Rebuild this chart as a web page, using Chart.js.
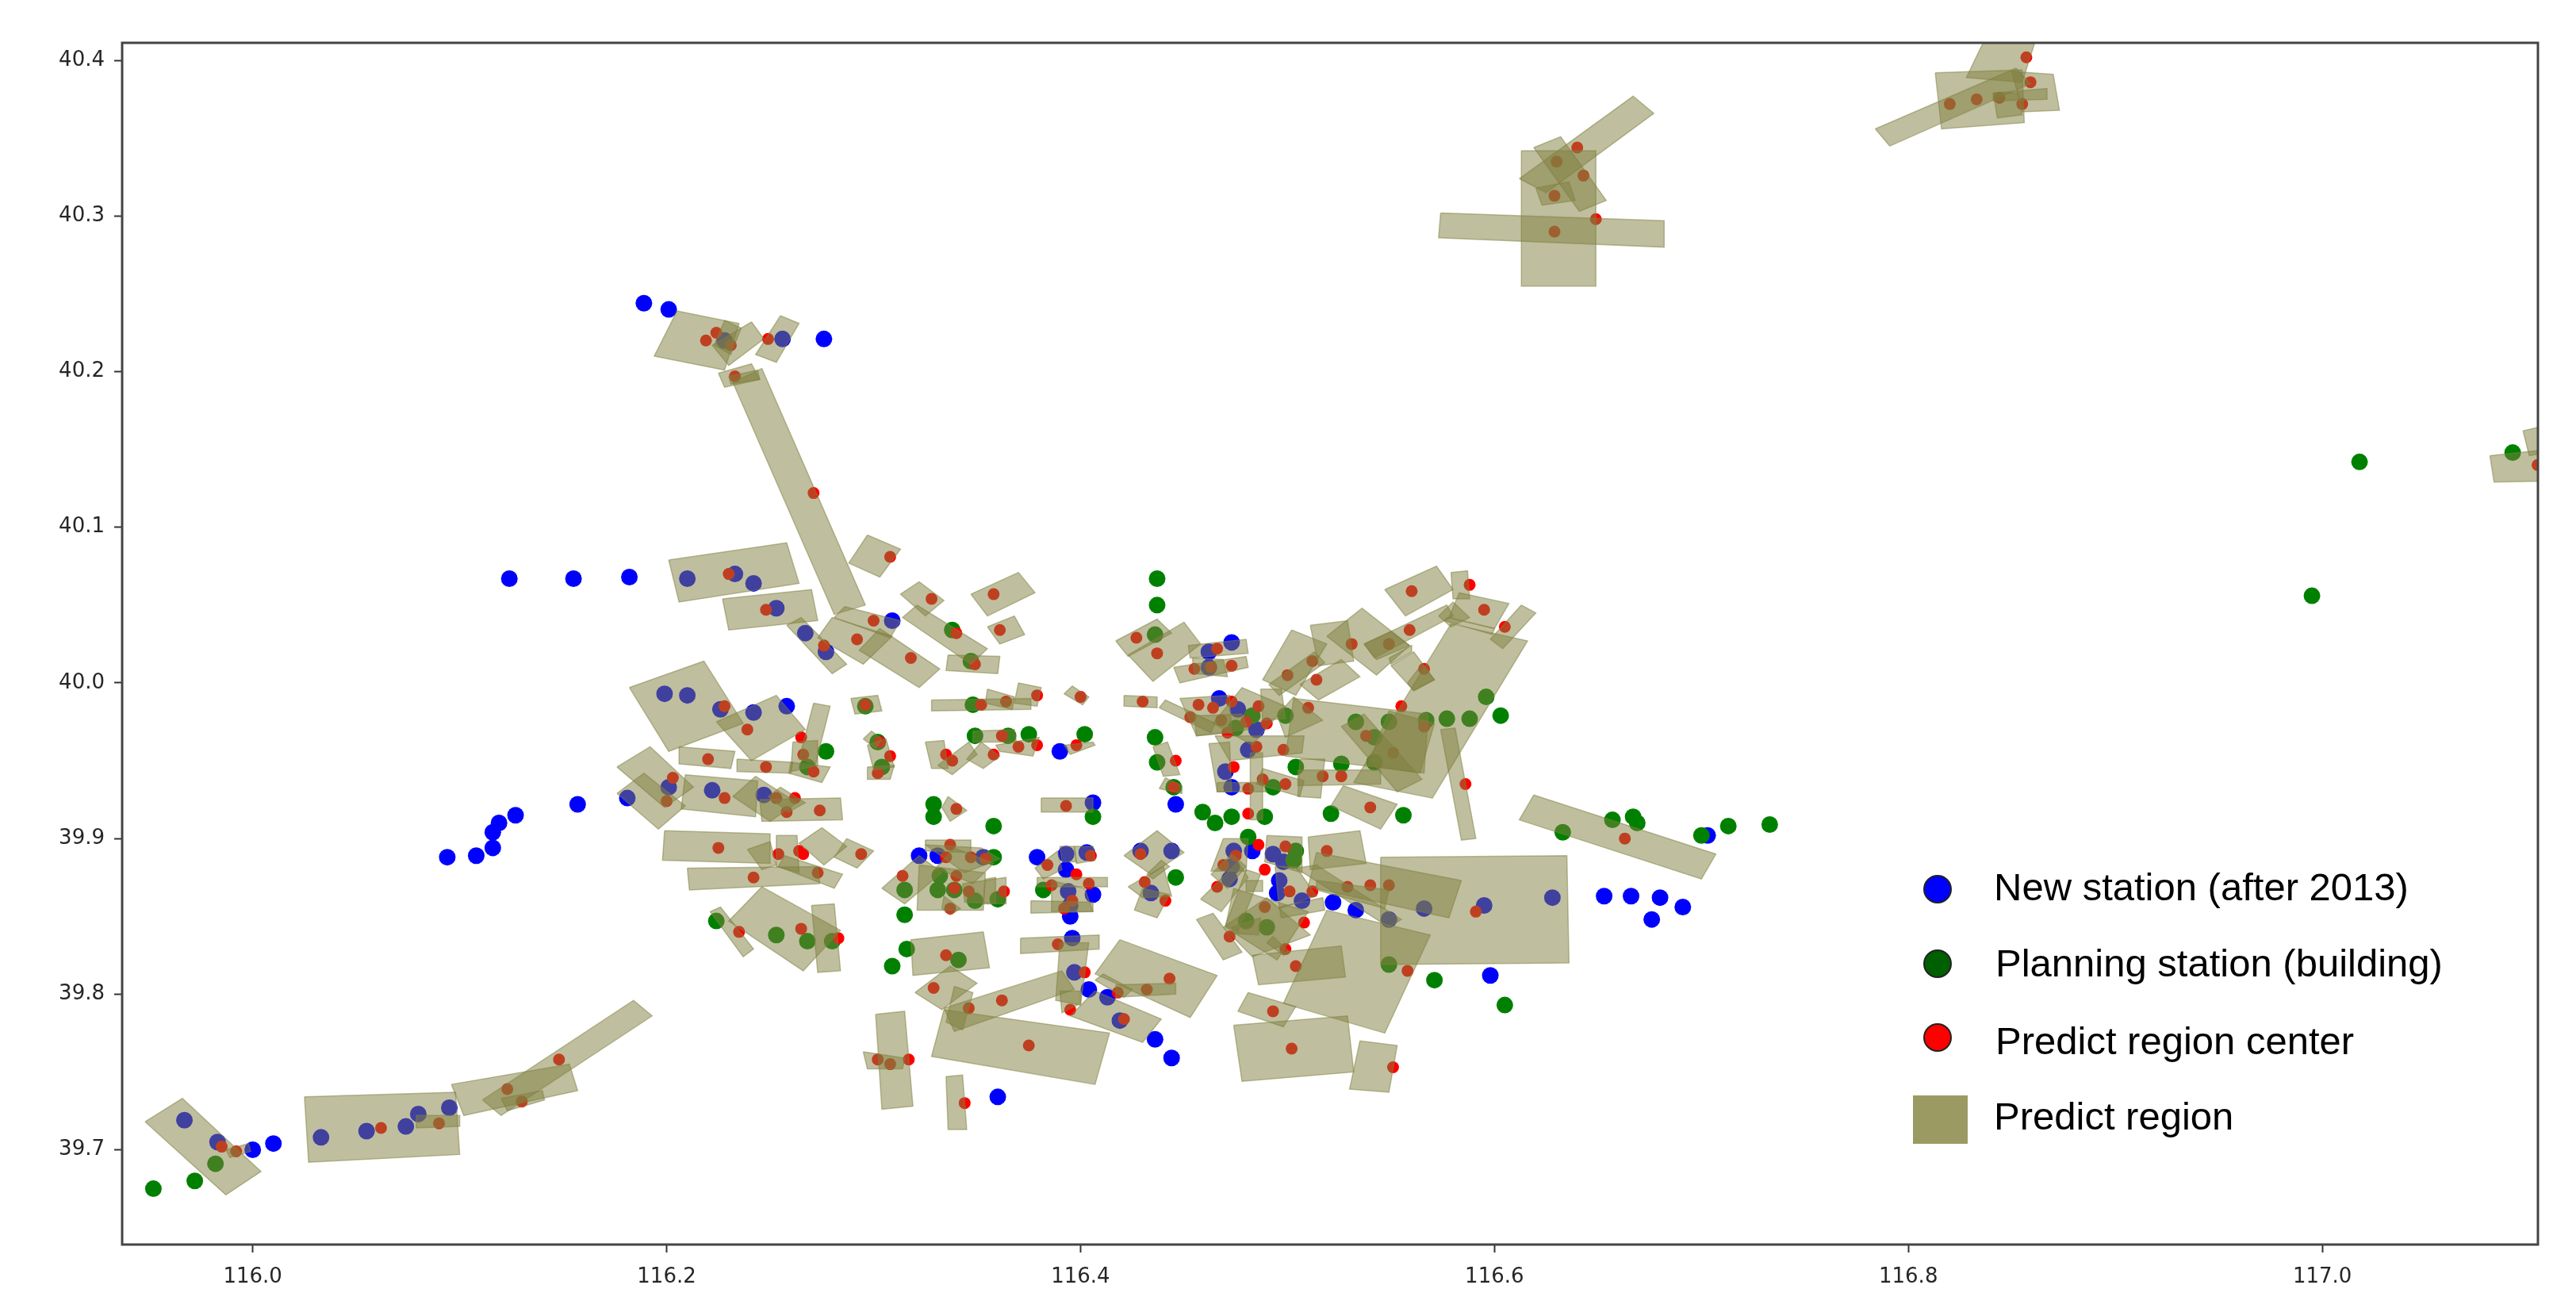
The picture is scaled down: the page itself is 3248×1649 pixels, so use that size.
<!DOCTYPE html>
<html>
<head>
<meta charset="utf-8">
<title>Predict regions</title>
<script src="https://cdn.jsdelivr.net/npm/chart.js@4"></script>
<style>
    body { margin: 0; background: #fff; }
    canvas { display: block; }
</style>
</head>
<body>
<canvas id="regionChart" width="3248" height="1649"></canvas>
<script>
// axis ticks
const xTicks = [116.0, 116.2, 116.4, 116.6, 116.8, 117.0];
const yTicks = [39.7, 39.8, 39.9, 40.0, 40.1, 40.2, 40.3, 40.4];
const xRange = [115.9369, 117.1042];
const yRange = [39.6391, 40.4113];

const legendLabels = ['New station (after 2013)', 'Planning station (building)', 'Predict region center', 'Predict region'];

// [lon, lat]
const newStations = [
    [116.189,40.244],[116.201,40.240],[116.256,40.221],[116.276,40.221],[116.228,40.220],[116.124,40.067],[116.155,40.067],[116.182,40.068],
    [116.210,40.067],[116.233,40.070],[116.242,40.064],[116.253,40.048],[116.267,40.032],[116.277,40.020],[116.309,40.040],[116.199,39.993],
    [116.210,39.992],[116.226,39.983],[116.242,39.981],[116.258,39.985],[116.094,39.888],[116.108,39.889],[116.116,39.894],[116.116,39.904],
    [116.119,39.910],[116.127,39.915],[116.157,39.922],[116.181,39.926],[116.201,39.933],[116.222,39.931],[116.247,39.928],[116.322,39.889],
    [116.331,39.889],[116.353,39.888],[116.379,39.888],[116.393,39.890],[116.403,39.891],[116.393,39.880],[116.394,39.866],[116.406,39.864],
    [116.395,39.857],[116.395,39.850],[116.396,39.836],[116.397,39.814],[116.404,39.803],[116.413,39.798],[116.419,39.783],[116.436,39.771],
    [116.444,39.759],[116.360,39.734],[116.429,39.892],[116.444,39.892],[116.434,39.865],[116.446,39.922],[116.390,39.956],[116.406,39.923],
    [116.467,39.990],[116.476,39.983],[116.473,40.026],[116.462,40.020],[116.462,40.010],[116.485,39.970],[116.481,39.957],[116.470,39.943],
    [116.473,39.933],[116.474,39.892],[116.483,39.892],[116.493,39.890],[116.498,39.885],[116.473,39.882],[116.472,39.874],[116.496,39.873],
    [116.495,39.865],[116.507,39.860],[116.522,39.859],[116.533,39.854],[116.549,39.848],[116.566,39.855],[116.595,39.857],[116.628,39.862],
    [116.653,39.863],[116.666,39.863],[116.680,39.862],[116.676,39.848],[116.691,39.856],[116.703,39.902],[116.598,39.812],
    [115.967,39.719],[115.983,39.705],[116.000,39.700],[116.010,39.704],[116.033,39.708],[116.055,39.712],[116.074,39.715],[116.080,39.723],[116.095,39.727]
];

const planningStations = [
    [116.277,39.956],[116.302,39.962],[116.304,39.946],[116.268,39.946],[116.329,39.922],[116.329,39.914],[116.224,39.847],[116.253,39.838],
    [116.268,39.834],[116.280,39.834],[116.315,39.851],[116.316,39.829],[116.309,39.818],[116.315,39.867],[116.332,39.876],[116.331,39.867],
    [116.339,39.867],[116.296,39.985],[116.338,40.034],[116.347,40.014],[116.348,39.986],[116.349,39.966],[116.365,39.966],[116.375,39.967],
    [116.402,39.967],[116.436,39.965],[116.437,39.949],[116.445,39.933],[116.459,39.917],[116.465,39.910],[116.473,39.914],[116.489,39.914],
    [116.358,39.908],[116.406,39.914],[116.358,39.888],[116.349,39.860],[116.360,39.861],[116.382,39.867],[116.446,39.875],[116.341,39.822],
    [116.480,39.847],[116.490,39.843],[116.437,40.067],[116.437,40.050],[116.436,40.031],[116.483,39.979],[116.475,39.971],[116.499,39.979],
    [116.533,39.975],[116.549,39.975],[116.567,39.976],[116.577,39.977],[116.588,39.977],[116.596,39.991],[116.603,39.979],[116.542,39.965],
    [116.542,39.949],[116.504,39.946],[116.526,39.948],[116.493,39.933],[116.521,39.916],[116.556,39.915],[116.481,39.901],[116.504,39.892],
    [116.503,39.886],[116.549,39.819],[116.571,39.809],[116.605,39.793],[116.633,39.904],[116.657,39.912],[116.667,39.914],[116.669,39.910],
    [116.700,39.902],[116.713,39.908],[116.733,39.909],[116.995,40.056],[117.018,40.142],[117.092,40.148],
    [115.982,39.691],[115.972,39.680],[115.952,39.675]
];

const regionCenters = [
    [116.219,40.220],[116.224,40.225],[116.231,40.217],[116.249,40.221],[116.233,40.197],[116.271,40.122],[116.308,40.081],[116.230,40.070],
    [116.248,40.047],[116.300,40.040],[116.292,40.028],[116.276,40.024],[116.318,40.016],[116.328,40.054],[116.340,40.032],[116.358,40.057],
    [116.361,40.034],[116.349,40.012],[116.228,39.985],[116.239,39.970],[116.265,39.965],[116.296,39.986],[116.303,39.962],[116.308,39.953],
    [116.266,39.954],[116.271,39.943],[116.248,39.946],[116.220,39.951],[116.302,39.942],[116.203,39.939],[116.200,39.924],[116.228,39.926],
    [116.253,39.926],[116.262,39.926],[116.258,39.917],[116.274,39.918],[116.225,39.894],[116.254,39.890],[116.264,39.892],[116.266,39.890],
    [116.294,39.890],[116.273,39.878],[116.242,39.875],[116.314,39.876],[116.265,39.842],[116.235,39.840],[116.283,39.836],[116.335,39.825],
    [116.329,39.804],[116.352,39.986],[116.364,39.988],[116.379,39.992],[116.400,39.991],[116.430,39.988],[116.457,39.986],[116.453,39.978],
    [116.464,39.984],[116.473,39.988],[116.468,39.976],[116.471,39.968],[116.480,39.975],[116.486,39.985],[116.490,39.974],[116.510,39.984],
    [116.335,39.954],[116.338,39.950],[116.358,39.954],[116.362,39.966],[116.370,39.959],[116.379,39.960],[116.398,39.960],[116.446,39.950],
    [116.445,39.933],[116.474,39.946],[116.481,39.932],[116.488,39.938],[116.499,39.935],[116.481,39.916],[116.340,39.919],[116.393,39.921],
    [116.540,39.920],[116.337,39.896],[116.335,39.888],[116.347,39.888],[116.354,39.887],[116.340,39.876],[116.339,39.868],[116.346,39.866],
    [116.363,39.866],[116.337,39.855],[116.384,39.883],[116.405,39.889],[116.398,39.877],[116.386,39.870],[116.404,39.871],[116.396,39.860],
    [116.392,39.855],[116.429,39.890],[116.431,39.872],[116.441,39.860],[116.389,39.832],[116.402,39.814],[116.418,39.801],[116.432,39.803],
    [116.443,39.810],[116.421,39.784],[116.395,39.790],[116.362,39.796],[116.346,39.791],[116.375,39.767],[116.302,39.758],[116.308,39.755],
    [116.317,39.758],[116.344,39.730],[116.472,39.837],[116.427,40.029],[116.437,40.019],[116.466,40.022],[116.455,40.009],[116.463,40.010],
    [116.473,40.011],[116.512,40.014],[116.500,40.005],[116.514,40.002],[116.531,40.025],[116.549,40.025],[116.560,40.059],[116.588,40.063],
    [116.595,40.047],[116.559,40.034],[116.566,40.009],[116.555,39.985],[116.605,40.036],[116.538,39.966],[116.551,39.955],[116.566,39.972],
    [116.517,39.940],[116.526,39.940],[116.586,39.935],[116.485,39.959],[116.498,39.957],[116.486,39.896],[116.499,39.895],[116.519,39.892],
    [116.475,39.889],[116.469,39.883],[116.489,39.880],[116.466,39.869],[116.501,39.866],[116.512,39.866],[116.489,39.856],[116.508,39.846],
    [116.499,39.829],[116.504,39.818],[116.529,39.869],[116.540,39.870],[116.549,39.870],[116.591,39.853],[116.558,39.815],[116.493,39.789],
    [116.502,39.765],[116.551,39.753],[116.663,39.900],[115.985,39.702],[115.992,39.699],[116.062,39.714],[116.090,39.717],[116.123,39.739],
    [116.130,39.731],[116.148,39.758],[116.640,40.344],[116.630,40.335],[116.643,40.326],[116.629,40.313],[116.649,40.298],[116.629,40.290],
    [116.857,40.402],[116.859,40.386],[116.820,40.372],[116.833,40.375],[116.844,40.376],[116.855,40.372],[117.104,40.140]
];

// four corners of each region: lon, lat, lon, lat, ...
const predictRegions = [
    [116.205,40.239,116.235,40.231,116.228,40.201,116.194,40.210],
    [116.241,40.232,116.247,40.221,116.230,40.204,116.222,40.217],
    [116.228,40.233,116.236,40.228,116.231,40.211,116.223,40.217],
    [116.255,40.236,116.264,40.231,116.253,40.206,116.243,40.211],
    [116.225,40.199,116.241,40.205,116.245,40.195,116.228,40.190],
    [116.230,40.197,116.244,40.201,116.245,40.195,116.231,40.192],
    [116.232,40.193,116.246,40.202,116.296,40.050,116.281,40.044],
    [116.297,40.095,116.313,40.086,116.303,40.068,116.288,40.077],
    [116.201,40.079,116.258,40.090,116.264,40.064,116.206,40.052],
    [116.227,40.054,116.270,40.060,116.273,40.040,116.230,40.034],
    [116.258,40.037,116.265,40.042,116.287,40.012,116.280,40.006],
    [116.280,40.042,116.309,40.030,116.295,40.012,116.273,40.029],
    [116.286,40.049,116.313,40.040,116.308,40.029,116.281,40.042],
    [116.303,40.035,116.332,40.009,116.322,39.997,116.293,40.021],
    [116.322,40.065,116.334,40.053,116.325,40.043,116.313,40.057],
    [116.321,40.050,116.355,40.022,116.347,40.012,116.314,40.042],
    [116.347,40.057,116.370,40.071,116.378,40.058,116.355,40.043],
    [116.355,40.036,116.368,40.043,116.373,40.031,116.361,40.025],
    [116.336,40.018,116.361,40.017,116.360,40.006,116.335,40.008],
    [116.289,39.990,116.302,39.992,116.304,39.982,116.291,39.980],
    [116.182,39.997,116.218,40.014,116.237,39.974,116.201,39.956],
    [116.224,39.975,116.253,39.992,116.267,39.970,116.241,39.950],
    [116.271,39.987,116.279,39.985,116.272,39.948,116.264,39.951],
    [116.260,39.949,116.279,39.946,116.275,39.936,116.259,39.942],
    [116.261,39.962,116.273,39.963,116.273,39.947,116.260,39.943],
    [116.206,39.959,116.233,39.956,116.231,39.945,116.206,39.948],
    [116.234,39.951,116.261,39.949,116.260,39.942,116.234,39.943],
    [116.176,39.946,116.192,39.959,116.213,39.933,116.199,39.920],
    [116.176,39.929,116.189,39.942,116.209,39.921,116.196,39.906],
    [116.209,39.941,116.244,39.937,116.243,39.914,116.207,39.919],
    [116.243,39.940,116.263,39.923,116.250,39.911,116.232,39.927],
    [116.245,39.925,116.284,39.926,116.285,39.912,116.246,39.911],
    [116.255,39.933,116.267,39.923,116.259,39.917,116.249,39.927],
    [116.199,39.905,116.250,39.903,116.250,39.884,116.198,39.886],
    [116.253,39.902,116.263,39.902,116.264,39.878,116.253,39.882],
    [116.275,39.907,116.287,39.895,116.276,39.883,116.264,39.897],
    [116.287,39.900,116.300,39.892,116.292,39.881,116.281,39.888],
    [116.210,39.881,116.273,39.882,116.274,39.871,116.211,39.867],
    [116.257,39.889,116.285,39.877,116.281,39.868,116.254,39.882],
    [116.239,39.893,116.250,39.898,116.253,39.883,116.246,39.880],
    [116.246,39.869,116.284,39.841,116.266,39.815,116.230,39.847],
    [116.270,39.857,116.281,39.858,116.284,39.815,116.273,39.814],
    [116.221,39.853,116.226,39.856,116.242,39.829,116.237,39.824],
    [116.328,39.989,116.376,39.990,116.376,39.983,116.328,39.982],
    [116.355,39.996,116.368,39.991,116.367,39.983,116.354,39.987],
    [116.370,40.000,116.381,39.997,116.379,39.985,116.368,39.987],
    [116.392,39.993,116.396,39.998,116.404,39.991,116.401,39.986],
    [116.421,39.992,116.437,39.991,116.437,39.984,116.421,39.985],
    [116.438,39.984,116.441,39.989,116.465,39.974,116.463,39.968],
    [116.295,39.964,116.299,39.969,116.304,39.964,116.301,39.958],
    [116.297,39.960,116.306,39.964,116.310,39.946,116.300,39.944],
    [116.297,39.946,116.310,39.947,116.308,39.938,116.297,39.938],
    [116.325,39.962,116.334,39.963,116.336,39.945,116.328,39.945],
    [116.331,39.947,116.346,39.962,116.350,39.954,116.338,39.941],
    [116.352,39.962,116.361,39.953,116.353,39.945,116.345,39.951],
    [116.348,39.969,116.368,39.970,116.369,39.962,116.348,39.962],
    [116.359,39.960,116.380,39.965,116.377,39.953,116.361,39.956],
    [116.392,39.960,116.406,39.962,116.407,39.960,116.395,39.954],
    [116.435,39.959,116.442,39.962,116.448,39.941,116.440,39.940],
    [116.438,39.932,116.441,39.939,116.449,39.934,116.449,39.929],
    [116.462,39.961,116.472,39.962,116.473,39.930,116.466,39.930],
    [116.488,39.945,116.508,39.937,116.506,39.927,116.485,39.935],
    [116.466,39.936,116.488,39.936,116.490,39.930,116.466,39.930],
    [116.482,39.955,116.488,39.955,116.488,39.912,116.482,39.912],
    [116.505,39.944,116.545,39.944,116.545,39.935,116.505,39.934],
    [116.506,39.951,116.518,39.951,116.516,39.926,116.505,39.927],
    [116.448,39.990,116.472,39.992,116.473,39.968,116.456,39.966],
    [116.455,39.979,116.478,39.980,116.481,39.970,116.456,39.966],
    [116.464,39.974,116.478,39.997,116.499,39.985,116.483,39.960],
    [116.487,39.996,116.497,39.996,116.499,39.977,116.488,39.976],
    [116.503,39.991,116.517,39.976,116.499,39.965,116.495,39.979],
    [116.465,39.966,116.508,39.966,116.507,39.955,116.472,39.950],
    [116.502,40.034,116.519,40.025,116.504,39.992,116.488,40.002],
    [116.491,39.999,116.513,40.020,116.518,40.013,116.496,39.992],
    [116.506,39.999,116.526,40.015,116.535,40.004,116.515,39.989],
    [116.511,40.037,116.529,40.040,116.532,40.014,116.515,40.011],
    [116.519,40.030,116.536,40.048,116.559,40.024,116.543,40.005],
    [116.537,40.025,116.577,40.050,116.580,40.043,116.542,40.016],
    [116.547,40.060,116.572,40.075,116.580,40.060,116.557,40.043],
    [116.579,40.071,116.587,40.072,116.588,40.054,116.580,40.054],
    [116.573,40.043,116.580,40.052,116.588,40.042,116.579,40.036],
    [116.583,40.058,116.607,40.051,116.600,40.035,116.578,40.042],
    [116.577,40.042,116.600,40.035,116.599,40.031,116.576,40.040],
    [116.613,40.050,116.620,40.045,116.604,40.022,116.598,40.028],
    [116.579,40.038,116.616,40.027,116.570,39.926,116.532,39.936],
    [116.550,40.011,116.561,40.020,116.571,40.002,116.561,39.995],
    [116.558,40.000,116.565,40.012,116.571,40.002,116.561,39.995],
    [116.537,40.025,116.550,40.033,116.559,40.024,116.543,40.015],
    [116.549,40.016,116.560,40.024,116.560,40.020,116.550,40.012],
    [116.503,39.990,116.568,39.980,116.566,39.942,116.499,39.953],
    [116.549,39.982,116.571,39.974,116.564,39.942,116.539,39.947],
    [116.537,39.980,116.565,39.938,116.553,39.930,116.526,39.972],
    [116.574,39.970,116.581,39.971,116.591,39.900,116.584,39.899],
    [116.527,39.934,116.553,39.922,116.545,39.906,116.521,39.921],
    [116.619,39.928,116.707,39.890,116.700,39.874,116.612,39.912],
    [116.417,40.027,116.437,40.041,116.444,40.032,116.423,40.017],
    [116.423,40.018,116.450,40.039,116.458,40.025,116.435,40.001],
    [116.452,40.024,116.480,40.028,116.481,40.019,116.453,40.016],
    [116.445,40.010,116.480,40.017,116.481,40.010,116.448,40.000],
    [116.454,40.016,116.469,40.015,116.471,40.004,116.455,40.006],
    [116.421,39.889,116.437,39.905,116.450,39.891,116.434,39.877],
    [116.423,39.869,116.440,39.882,116.444,39.863,116.430,39.862],
    [116.426,39.854,116.430,39.868,116.443,39.864,116.437,39.849],
    [116.432,39.877,116.439,39.886,116.443,39.882,116.435,39.874],
    [116.378,39.881,116.389,39.892,116.391,39.880,116.382,39.874],
    [116.397,39.895,116.406,39.895,116.407,39.886,116.398,39.884],
    [116.390,39.895,116.397,39.895,116.398,39.885,116.391,39.885],
    [116.379,39.875,116.413,39.875,116.413,39.869,116.379,39.869],
    [116.376,39.860,116.406,39.859,116.406,39.853,116.376,39.852],
    [116.386,39.873,116.402,39.868,116.406,39.853,116.386,39.853],
    [116.371,39.836,116.409,39.838,116.409,39.829,116.371,39.826],
    [116.390,39.833,116.404,39.833,116.400,39.793,116.388,39.796],
    [116.419,39.835,116.466,39.812,116.453,39.785,116.407,39.813],
    [116.417,39.806,116.446,39.807,116.446,39.800,116.417,39.798],
    [116.407,39.809,116.411,39.813,116.425,39.803,116.421,39.798],
    [116.407,39.802,116.439,39.784,116.430,39.769,116.395,39.786],
    [116.390,39.802,116.400,39.802,116.400,39.794,116.391,39.788],
    [116.334,39.791,116.391,39.815,116.397,39.803,116.339,39.776],
    [116.334,39.790,116.414,39.775,116.407,39.742,116.328,39.760],
    [116.320,39.801,116.337,39.818,116.350,39.807,116.333,39.790],
    [116.318,39.835,116.353,39.840,116.356,39.817,116.319,39.812],
    [116.339,39.805,116.348,39.801,116.343,39.777,116.335,39.782],
    [116.301,39.787,116.315,39.789,116.319,39.728,116.304,39.726],
    [116.295,39.763,116.315,39.759,116.314,39.752,116.297,39.752],
    [116.335,39.747,116.343,39.748,116.345,39.713,116.336,39.713],
    [116.456,39.848,116.464,39.852,116.478,39.827,116.469,39.822],
    [116.458,39.861,116.476,39.885,116.481,39.875,116.468,39.853],
    [116.469,39.900,116.481,39.900,116.480,39.879,116.463,39.879],
    [116.490,39.902,116.507,39.901,116.507,39.878,116.489,39.885],
    [116.510,39.901,116.535,39.905,116.538,39.884,116.511,39.880],
    [116.514,39.891,116.584,39.873,116.578,39.849,116.510,39.869],
    [116.545,39.888,116.635,39.889,116.636,39.820,116.545,39.819],
    [116.514,39.873,116.549,39.867,116.547,39.855,116.514,39.867],
    [116.519,39.854,116.569,39.838,116.547,39.775,116.498,39.794],
    [116.483,39.825,116.526,39.831,116.528,39.811,116.486,39.806],
    [116.474,39.868,116.510,39.853,116.495,39.822,116.470,39.843],
    [116.469,39.843,116.490,39.862,116.511,39.838,116.483,39.824],
    [116.473,39.843,116.487,39.849,116.486,39.838,116.474,39.839],
    [116.490,39.833,116.493,39.837,116.501,39.827,116.498,39.825],
    [116.476,39.789,116.481,39.801,116.504,39.792,116.498,39.779],
    [116.474,39.780,116.529,39.786,116.532,39.750,116.478,39.744],
    [116.535,39.770,116.553,39.767,116.549,39.737,116.530,39.739],
    [116.496,39.856,116.517,39.862,116.518,39.854,116.497,39.849],
    [116.504,39.881,116.514,39.883,116.555,39.848,116.549,39.843],
    [116.494,39.882,116.504,39.882,116.514,39.863,116.496,39.855],
    [116.463,39.877,116.473,39.890,116.480,39.882,116.471,39.868],
    [116.480,39.873,116.488,39.873,116.488,39.866,116.480,39.866],
    [116.470,39.844,116.480,39.880,116.487,39.877,116.476,39.840],
    [116.381,39.926,116.406,39.926,116.406,39.917,116.381,39.917],
    [116.336,39.927,116.345,39.918,116.337,39.911,116.333,39.920],
    [115.948,39.718,115.966,39.733,116.004,39.686,115.987,39.671],
    [115.987,39.700,115.998,39.704,115.999,39.699,115.989,39.695],
    [116.025,39.734,116.098,39.737,116.100,39.697,116.027,39.692],
    [116.079,39.722,116.100,39.722,116.100,39.715,116.079,39.714],
    [116.096,39.742,116.153,39.755,116.157,39.738,116.102,39.722],
    [116.111,39.732,116.184,39.796,116.193,39.786,116.120,39.722],
    [116.120,39.733,116.140,39.738,116.141,39.732,116.123,39.725],
    [116.613,40.342,116.649,40.342,116.649,40.255,116.613,40.255],
    [116.574,40.302,116.682,40.297,116.682,40.280,116.573,40.286],
    [116.612,40.324,116.667,40.377,116.677,40.366,116.625,40.315],
    [116.619,40.344,116.632,40.351,116.654,40.310,116.641,40.303],
    [116.620,40.318,116.636,40.322,116.639,40.310,116.623,40.307],
    [116.813,40.392,116.855,40.394,116.856,40.360,116.816,40.356],
    [116.784,40.356,116.852,40.395,116.859,40.385,116.791,40.345],
    [116.836,40.411,116.861,40.411,116.855,40.386,116.828,40.389],
    [116.850,40.393,116.870,40.391,116.873,40.368,116.855,40.367],
    [116.841,40.379,116.867,40.382,116.867,40.375,116.841,40.374],
    [116.841,40.379,116.853,40.379,116.855,40.365,116.843,40.363],
    [117.081,40.146,117.123,40.152,117.123,40.130,117.083,40.129],
    [117.097,40.162,117.123,40.170,117.123,40.151,117.100,40.146],
    [116.325,39.899,116.347,39.899,116.347,39.891,116.325,39.892],
    [116.304,39.868,116.322,39.889,116.333,39.878,116.315,39.858],
    [116.322,39.883,116.354,39.878,116.353,39.854,116.321,39.854],
    [116.325,39.896,116.352,39.894,116.361,39.887,116.344,39.878],
    [116.339,39.894,116.358,39.884,116.348,39.871,116.330,39.881],
    [116.343,39.871,116.364,39.875,116.364,39.858,116.344,39.859],
    [116.354,39.874,116.359,39.875,116.359,39.858,116.353,39.858],
    [116.334,39.863,116.342,39.855,116.337,39.851,116.333,39.855]
];

// axis frame on all four sides
const framePlugin = {
    id: 'frame',
    afterDatasetsDraw(chart) {
        const { ctx, chartArea: a } = chart;
        ctx.save();
        ctx.strokeStyle = '#444';
        ctx.lineWidth = 3;
        ctx.strokeRect(a.left, a.top, a.right - a.left, a.bottom - a.top);
        ctx.restore();
    }
};

const legendPlugin = {
    id: 'pastedLegend',
    afterDraw(chart) {
        const ctx = chart.ctx;
        const rows = [
            { y: 1121, text: 1135, x: 2514, color: '#0000ff' },
            { y: 1215, text: 1231, x: 2516, color: '#005f00' },
            { y: 1308, text: 1329, x: 2516, color: '#ff0000' }
        ];
        ctx.save();
        ctx.font = '49px "Liberation Sans"';
        ctx.textBaseline = 'alphabetic';
        rows.forEach((row, i) => {
            ctx.beginPath();
            ctx.arc(2443, row.y, 17, 0, Math.PI * 2);
            ctx.fillStyle = row.color;
            ctx.fill();
            ctx.lineWidth = 2;
            ctx.strokeStyle = '#222';
            ctx.stroke();
            ctx.fillStyle = '#000';
            ctx.fillText(legendLabels[i], row.x, row.text);
        });
        ctx.fillStyle = '#9c9a63';
        ctx.fillRect(2412, 1381, 69, 61);
        ctx.fillStyle = '#000';
        ctx.fillText(legendLabels[3], 2514, 1424);
        ctx.restore();
    }
};

function toPoints(list) {
    return list.map(p => ({ x: p[0], y: p[1] }));
}

function regionToPoints(corners) {
    const pts = [];
    for (let i = 0; i < corners.length; i += 2) {
        pts.push({ x: corners[i], y: corners[i + 1] });
    }
    pts.push(pts[0]);
    return pts;
}

const regionDatasets = predictRegions.map(corners => ({
    data: regionToPoints(corners),
    showLine: true,
    fill: 'shape',
    tension: 0,
    pointRadius: 0,
    backgroundColor: 'rgba(128, 128, 64, 0.5)',
    borderColor: 'rgba(128, 128, 64, 0.5)',
    borderWidth: 1.5,
    order: 0
}));

const tickFont = { family: '"DejaVu Sans"', size: 26 };

new Chart(document.getElementById('regionChart'), {
    type: 'scatter',
    data: {
        datasets: [
            ...regionDatasets,
            { label: legendLabels[2], data: toPoints(regionCenters), backgroundColor: '#ff0000', pointRadius: 7.5, pointBorderWidth: 0, order: 1 },
            { label: legendLabels[1], data: toPoints(planningStations), backgroundColor: '#008000', pointRadius: 10.5, pointBorderWidth: 0, order: 2 },
            { label: legendLabels[0], data: toPoints(newStations), backgroundColor: '#0000ff', pointRadius: 10.5, pointBorderWidth: 0, order: 3 }
        ]
    },
    options: {
        responsive: false,
        animation: false,
        events: [],
        layout: { autoPadding: false, padding: { top: 54, right: 48, left: 0, bottom: 0 } },
        plugins: { legend: { display: false }, tooltip: { enabled: false } },
        scales: {
            x: {
                type: 'linear',
                min: xRange[0],
                max: xRange[1],
                afterFit: scale => { scale.height = 80; },
                afterBuildTicks: scale => { scale.ticks = xTicks.map(v => ({ value: v })); },
                grid: { drawOnChartArea: false, tickLength: 10, tickColor: '#333', tickWidth: 2 },
                border: { display: false },
                ticks: { font: tickFont, color: '#262626', padding: 16, maxRotation: 0, autoSkip: false, callback: v => v.toFixed(1) }
            },
            y: {
                type: 'linear',
                min: yRange[0],
                max: yRange[1],
                afterFit: scale => { scale.width = 154; },
                afterBuildTicks: scale => { scale.ticks = yTicks.map(v => ({ value: v })); },
                grid: { drawOnChartArea: false, tickLength: 10, tickColor: '#333', tickWidth: 2 },
                border: { display: false },
                ticks: { font: tickFont, color: '#262626', padding: 12, autoSkip: false, callback: v => v.toFixed(1) }
            }
        }
    },
    plugins: [framePlugin, legendPlugin]
});
</script>
</body>
</html>
